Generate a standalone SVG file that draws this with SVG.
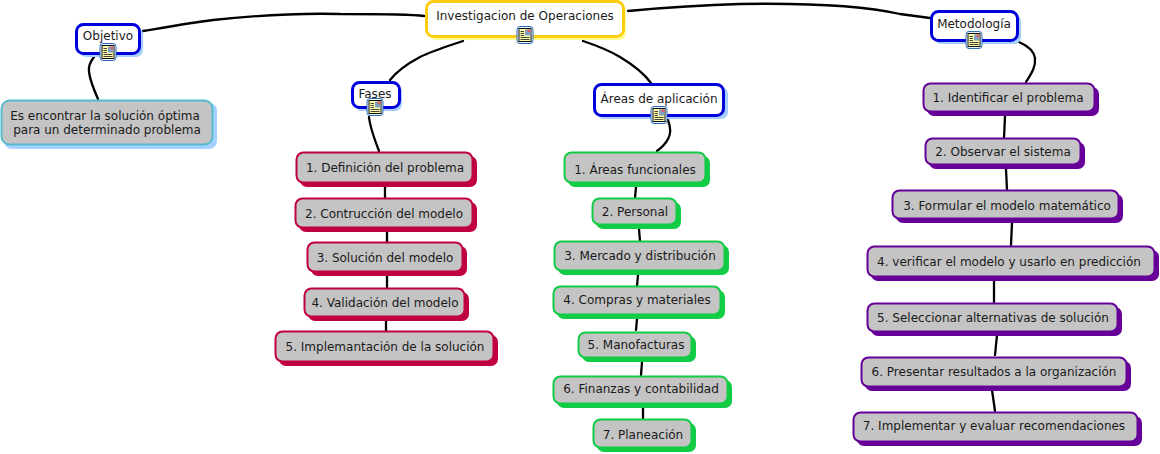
<svg xmlns="http://www.w3.org/2000/svg" width="1160" height="454" viewBox="0 0 1160 454">
<style>
text{font-family:"DejaVu Sans",Verdana,sans-serif;font-size:12px;fill:#1a1a1a;text-anchor:middle}
.c{fill:none;stroke:#000;stroke-width:2.3;stroke-linecap:round;stroke-linejoin:round}
.b{fill:#fff;stroke-width:3}
.g{fill:#c4c4c4;stroke-width:2}
.blue{stroke:#0000dd}.sb{fill:#a6d0ff}
.red{stroke:#c00040}.sr{fill:#c00040}
.grn{stroke:#11cc44}.sg{fill:#11cc44}
.pur{stroke:#660099}.sp{fill:#660099}
</style>
<defs>
<g id="ic">
<rect x="0.500" y="0.500" width="16" height="17" rx="3" fill="#e8f2ff" stroke="#2e6db4"/>
<rect x="2.500" y="2.500" width="12" height="13" fill="#ffffb0" stroke="#111" stroke-width="1"/>
<path d="M4 5.500h3.500M4 7.500h3.500M4 9.500h3.500M4 11.500h9M4 13.500h9" stroke="#111" stroke-width="0.8"/>
<rect x="8.500" y="3.500" width="5.500" height="6" fill="#7fa0c0"/>
<rect x="11" y="3.500" width="3" height="2.500" fill="#e06060"/>
</g>
</defs>
<g id="connectors">
<path class="c" d="M424 16C410 14 390 14 340 14C300 13 250 16 213 20C190 23 167 27 143 31"/>
<path class="c" d="M628 11C660 8 700 5 740 4C800 3 860 5 900 14L930 18"/>
<path class="c" d="M463 41C445 47 432 51 420 57C405 65 397 71 390 80"/>
<path class="c" d="M583 41C598 46 610 51 620 57C630 63 643 72 651 83"/>
<path class="c" d="M94 57C90 62 88 66 89 72C90 80 94 90 98 99"/>
<path class="c" d="M369 117C370 127 374 138 379 151"/>
<path class="c" d="M668 120C671 128 671 134 668 139C665 145 661 148 657 151"/>
<path class="c" d="M1019 42C1028 46 1034 51 1035 58C1036 67 1031 74 1026 82"/>
<path class="c" d="M385 187L385 198M387 228L387 242M387 272L387 288M386 317L386 331"/>
<path class="c" d="M636 187L635 198M639 229L640 241M638 275L637 286M637 319L636 330M642 362L641 375M643 408L643 419"/>
<path class="c" d="M1005 116L1004 138M1006 169L1007 190M1012 223L1011 245M994 281L994 302M997 335L995 355M992 390L995 411"/>
</g>
<g id="root"><rect x="429" y="4" width="197" height="36" rx="7" fill="#ffff99"/><rect class="b" x="426.500" y="1.500" width="197" height="35" rx="7" stroke="#ffcc11"/><text x="525" y="20">Investigacion de Operaciones</text><use href="#ic" x="516.500" y="26"/></g>
<g id="objetivo"><rect class="sb" x="79" y="27" width="64" height="30" rx="7"/><rect class="b blue" x="76.500" y="24.500" width="63" height="29" rx="7"/><text x="108" y="40">Objetivo</text><use href="#ic" x="99.500" y="43"/></g>
<g id="metodologia"><rect class="sb" x="934" y="14" width="87" height="30" rx="7"/><rect class="b blue" x="931.500" y="11.500" width="86" height="29" rx="7"/><text x="974" y="28">Metodología</text><use href="#ic" x="965.500" y="31"/></g>
<g id="fases"><rect class="sb" x="355" y="85" width="47" height="26" rx="7"/><rect class="b blue" x="352.500" y="82.500" width="47" height="25" rx="7"/><text x="375" y="98">Fases</text><use href="#ic" x="366.500" y="98"/></g>
<g id="areas"><rect class="sb" x="597" y="87" width="131" height="32" rx="7"/><rect class="b blue" x="594.500" y="84.500" width="129" height="31" rx="7"/><text x="659" y="103">Áreas de aplicación</text><use href="#ic" x="650.500" y="106"/></g>
<g id="objetivo-text"><rect class="sb" x="4" y="103" width="213" height="46" rx="8"/><rect class="g" x="1.500" y="100.500" width="211" height="44" rx="8" stroke="#55bbcc"/><text x="105" y="120">Es encontrar la solución óptima</text><text x="107" y="134">para un determinado problema</text></g>
<g id="fase-1"><rect class="sr" x="300" y="156" width="177" height="31" rx="7"/><rect class="g red" x="296.500" y="152.500" width="176" height="30" rx="7"/><text x="385" y="172">1. Definición del problema</text></g>
<g id="fase-2"><rect class="sr" x="299" y="202" width="178" height="30" rx="7"/><rect class="g red" x="295.500" y="198.500" width="177" height="29" rx="7"/><text x="384" y="218">2. Contrucción del modelo</text></g>
<g id="fase-3"><rect class="sr" x="311" y="246" width="156" height="30" rx="7"/><rect class="g red" x="307.500" y="242.500" width="155" height="29" rx="7"/><text x="385" y="262">3. Solución del modelo</text></g>
<g id="fase-4"><rect class="sr" x="308" y="292" width="161" height="29" rx="7"/><rect class="g red" x="304.500" y="288.500" width="160" height="28" rx="7"/><text x="385" y="307">4. Validación del modelo</text></g>
<g id="fase-5"><rect class="sr" x="279" y="335" width="219" height="31" rx="7"/><rect class="g red" x="275.500" y="331.500" width="218" height="30" rx="7"/><text x="385" y="351">5. Implemantación de la solución</text></g>
<g id="area-1"><rect class="sg" x="568" y="156" width="142" height="31" rx="7"/><rect class="g grn" x="564.500" y="152.500" width="141" height="30" rx="7"/><text x="635" y="174">1. Áreas funcionales</text></g>
<g id="area-2"><rect class="sg" x="596" y="202" width="85" height="27" rx="7"/><rect class="g grn" x="592.500" y="198.500" width="84" height="26" rx="7"/><text x="635" y="216">2. Personal</text></g>
<g id="area-3"><rect class="sg" x="558" y="245" width="171" height="30" rx="7"/><rect class="g grn" x="554.500" y="241.500" width="170" height="29" rx="7"/><text x="640" y="260">3. Mercado y distribución</text></g>
<g id="area-4"><rect class="sg" x="557" y="290" width="168" height="29" rx="7"/><rect class="g grn" x="553.500" y="286.500" width="167" height="28" rx="7"/><text x="637" y="304">4. Compras y materiales</text></g>
<g id="area-5"><rect class="sg" x="582" y="336" width="114" height="26" rx="7"/><rect class="g grn" x="578.500" y="332.500" width="113" height="25" rx="7"/><text x="636" y="349">5. Manofacturas</text></g>
<g id="area-6"><rect class="sg" x="557" y="380" width="175" height="28" rx="7"/><rect class="g grn" x="553.500" y="376.500" width="174" height="27" rx="7"/><text x="641" y="393">6. Finanzas y contabilidad</text></g>
<g id="area-7"><rect class="sg" x="597" y="423" width="99" height="29" rx="7"/><rect class="g grn" x="593.500" y="419.500" width="98" height="28" rx="7"/><text x="643" y="439">7. Planeación</text></g>
<g id="met-1"><rect class="sp" x="927" y="87" width="172" height="29" rx="7"/><rect class="g pur" x="923.500" y="83.500" width="171" height="28" rx="7"/><text x="1008" y="102">1. Identificar el problema</text></g>
<g id="met-2"><rect class="sp" x="929" y="142" width="156" height="27" rx="7"/><rect class="g pur" x="925.500" y="138.500" width="155" height="26" rx="7"/><text x="1003" y="156">2. Observar el sistema</text></g>
<g id="met-3"><rect class="sp" x="896" y="194" width="227" height="29" rx="7"/><rect class="g pur" x="892.500" y="190.500" width="226" height="28" rx="7"/><text x="1007" y="210">3. Formular el modelo matemático</text></g>
<g id="met-4"><rect class="sp" x="871" y="250" width="288" height="31" rx="7"/><rect class="g pur" x="867.500" y="246.500" width="287" height="30" rx="7"/><text x="1009" y="266">4. verificar el modelo y usarlo en predicción</text></g>
<g id="met-5"><rect class="sp" x="871" y="307" width="251" height="29" rx="7"/><rect class="g pur" x="867.500" y="303.500" width="250" height="28" rx="7"/><text x="993" y="322">5. Seleccionar alternativas de solución</text></g>
<g id="met-6"><rect class="sp" x="865" y="361" width="266" height="30" rx="7"/><rect class="g pur" x="861.500" y="357.500" width="265" height="29" rx="7"/><text x="994" y="376">6. Presentar resultados a la organización</text></g>
<g id="met-7"><rect class="sp" x="857" y="416" width="285" height="30" rx="7"/><rect class="g pur" x="853.500" y="412.500" width="284" height="29" rx="7"/><text x="994" y="430">7. Implementar y evaluar recomendaciones</text></g>
</svg>
